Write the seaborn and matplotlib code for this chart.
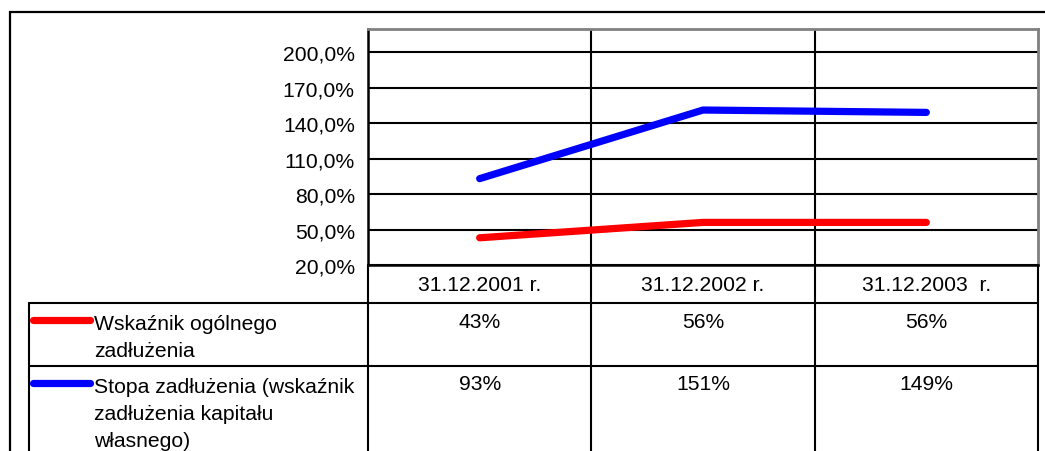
import pandas as pd
import numpy as np
import matplotlib.pyplot as plt
import seaborn as sns
from matplotlib.patches import Rectangle

# dane
daty = ['31.12.2001 r.', '31.12.2002 r.', '31.12.2003  r.']
wskaznik_ogolny = [43, 56, 56]
stopa_zadluzenia = [93, 151, 149]
serie = ['Wskaźnik ogólnego\nzadłużenia',
         'Stopa zadłużenia (wskaźnik\nzadłużenia kapitału\nwłasnego)']
kolory = ['#ff0000', '#0000ff']
y_ticki = [20, 50, 80, 110, 140, 170, 200]

df = pd.DataFrame({
    'data': daty * 2,
    'seria': [serie[0]] * 3 + [serie[1]] * 3,
    'wartosc': wskaznik_ogolny + stopa_zadluzenia,
})

sns.set_style('white')
plt.rcParams['font.family'] = ['Liberation Sans', 'DejaVu Sans']
plt.rcParams['text.color'] = 'black'
plt.rcParams['ytick.color'] = 'black'
plt.rcParams['ytick.labelcolor'] = 'black'
FS = 15.2

W, H = 1045, 452
fig = plt.figure(figsize=(W / 100, H / 100), dpi=100)

# ramka zewnetrzna
fig.patches.append(Rectangle((10 / W, -0.1), (W + 20 - 10) / W, 1.1 - 13 / H,
                             transform=fig.transFigure, fill=False,
                             edgecolor='black', lw=1.6))

L, R, T, B = 368, 1038, 30, 266
ax = fig.add_axes([L / W, 1 - B / H, (R - L) / W, (B - T) / H])
sns.lineplot(data=df, x='data', y='wartosc', hue='seria', palette=kolory,
             sort=False, lw=5.2, legend=False, ax=ax, zorder=5,
             solid_capstyle='round')
ax.set_xlim(-0.5, 2.5)
ax.set_ylim(20, 219.5)
ax.set_yticks(y_ticki)
ax.set_yticklabels([f'{v:.1f}%'.replace('.', ',') for v in y_ticki],
                   fontsize=FS, color='black')
ax.tick_params(axis='y', direction='out', length=7, width=1.5, pad=2.5, color='black')
ax.tick_params(axis='x', length=0, labelbottom=False)
ax.set_xlabel('')
ax.set_ylabel('')
for v in y_ticki:
    ax.axhline(v, color='black', lw=1.5, zorder=2)
for x in [0.5, 1.5]:
    ax.axvline(x, color='black', lw=1.5, zorder=2)
for s in ['top', 'right']:
    ax.spines[s].set_color('#808080')
    ax.spines[s].set_linewidth(2)
for s in ['left', 'bottom']:
    ax.spines[s].set_color('black')
    ax.spines[s].set_linewidth(1.8)

# tabela danych
tb = fig.add_axes([L / W, 0, (R - L) / W, (H - B) / H])
tb.set_xlim(-0.5, 2.5)
tb.set_ylim(H - B, 0)
tb.axis('off')


def px(x):
    return -0.5 + (x - L) * 3 / (R - L)


kw = dict(color='black', lw=1.5, clip_on=False)
tb.plot([px(29), 2.5], [304 - B, 304 - B], **kw)
tb.plot([px(29), 2.5], [367.3 - B, 367.3 - B], **kw)
for x in [-0.5, 0.5, 1.5, 2.5]:
    tb.plot([x, x], [0, H - B + 5], **kw)
tb.plot([px(29), px(29)], [304 - B, H - B + 5], **kw)

for i, d in enumerate(daty):
    tb.text(i, 285.5 - B, d, ha='center', va='center', fontsize=FS)

wiersze = [wskaznik_ogolny, stopa_zadluzenia]
y_wiersz = [322.5 - B, 385 - B]
y_etyk = [321 - B, 384.3 - B]
for r, (vals, nazwa, kol) in enumerate(zip(wiersze, serie, kolory)):
    for i, v in enumerate(vals):
        tb.text(i, y_wiersz[r], f'{v}%', ha='center', va='center', fontsize=FS)
    tb.plot([px(33), px(90)], [y_etyk[r], y_etyk[r]], color=kol, lw=5.2,
            solid_capstyle='round', clip_on=False)
    tb.text(px(94.5), y_etyk[r] - 6, nazwa, ha='left', va='top',
            fontsize=FS, linespacing=1.52, clip_on=False)

plt.savefig('out.png', dpi=100)
